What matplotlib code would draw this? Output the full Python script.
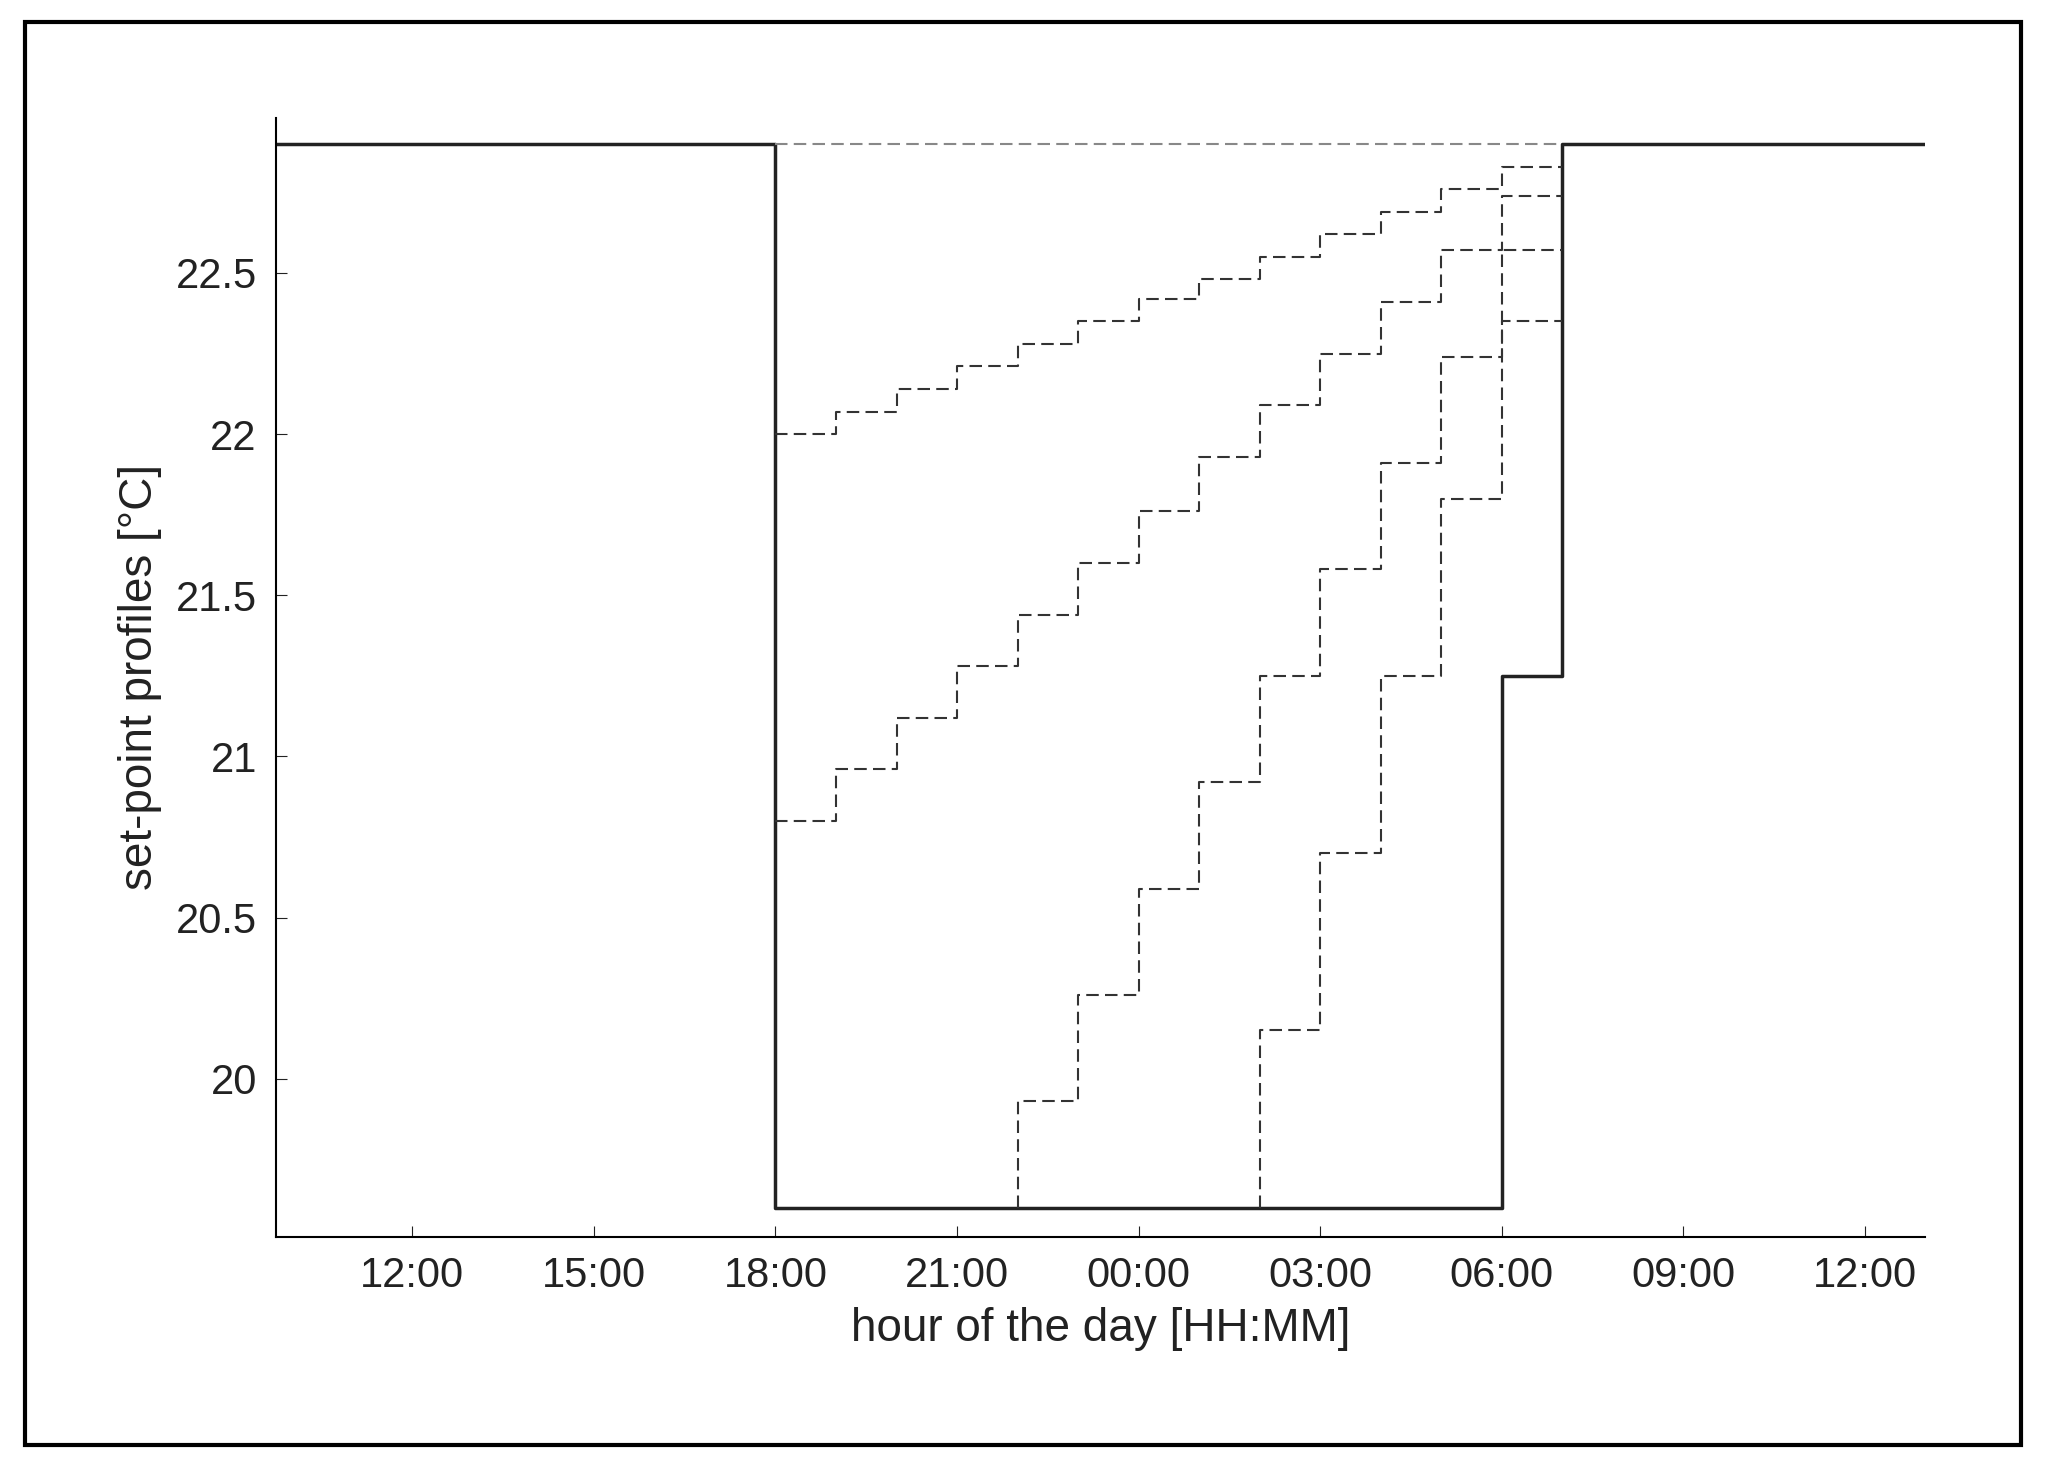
import matplotlib.pyplot as plt
from matplotlib.patches import Rectangle

plt.rcParams['font.family'] = ['Liberation Sans', 'DejaVu Sans']

# hours counted from midnight of the first day (24 = 00:00 next day)
solid_x = [9.75, 18, 30, 31, 37]
solid_y = [22.9, 19.6, 21.25, 22.9, 22.9]

top_dash_y = 22.9

s1_start = 18
s1 = [22.0, 22.07, 22.14, 22.21, 22.28, 22.35, 22.42, 22.48, 22.55, 22.62, 22.69, 22.76, 22.83]
s2_start = 18
s2 = [20.8, 20.96, 21.12, 21.28, 21.44, 21.60, 21.76, 21.93, 22.09, 22.25, 22.41, 22.57, 22.74]
s3_start = 22
s3 = [19.93, 20.26, 20.59, 20.92, 21.25, 21.58, 21.91, 22.24, 22.57]
s4_start = 26
s4 = [20.15, 20.70, 21.25, 21.80, 22.35]

tick_hours = [12, 15, 18, 21, 24, 27, 30, 33, 36]
tick_labels = ['%02d:00' % (h % 24) for h in tick_hours]
y_ticks = [20, 20.5, 21, 21.5, 22, 22.5]

fig = plt.figure(figsize=(20.46, 14.6), dpi=100)
fig.patches.append(Rectangle((0.012, 0.01), 0.976, 0.975, transform=fig.transFigure,
                             fill=False, edgecolor='black', linewidth=3))
ax = fig.add_axes([0.135, 0.153, 0.806, 0.766])

ax.step(solid_x, solid_y, where='post', color='#222222', linewidth=2.5)
ax.plot([18, 31], [top_dash_y, top_dash_y], color='#888888', linewidth=1.5, dashes=(6, 3))

for start, vals, from_bottom in [(s1_start, s1, False), (s2_start, s2, False),
                                 (s3_start, s3, True), (s4_start, s4, True)]:
    xs = [start + i for i in range(len(vals))] + [start + len(vals)]
    ys = vals + [vals[-1]]
    if from_bottom:
        xs = [start] + xs
        ys = [19.6] + ys
    ax.step(xs, ys, where='post', color='#333333', linewidth=1.5, dashes=(6, 3))

ax.set_xlim(9.75, 37)
ax.set_ylim(19.51, 22.98)
ax.set_xticks(tick_hours)
ax.set_xticklabels(tick_labels)
ax.set_yticks(y_ticks)
ax.set_yticklabels(['20', '20.5', '21', '21.5', '22', '22.5'])
ax.tick_params(direction='in', length=8, labelsize=30, pad=14, colors='#222222')
ax.spines['top'].set_visible(False)
ax.spines['right'].set_visible(False)
ax.spines['left'].set_linewidth(1.5)
ax.spines['bottom'].set_linewidth(1.5)
ax.set_xlabel('hour of the day [HH:MM]', fontsize=33, color='#222222', labelpad=8)
ax.set_ylabel('set-point profiles [°C]', fontsize=33, color='#222222', labelpad=10)

fig.savefig('out.png', dpi=100)
